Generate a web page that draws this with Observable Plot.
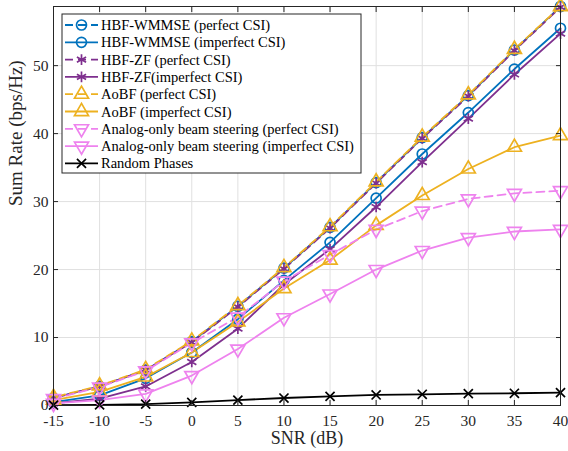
<!DOCTYPE html>
<html>
<head>
<meta charset="utf-8">
<script src="https://cdn.jsdelivr.net/npm/d3@7"></script>
<script src="https://cdn.jsdelivr.net/npm/@observablehq/plot@0.6"></script>
<style>
  html, body { margin: 0; padding: 0; background: white; }
  #chart svg, #chart svg text { font-family: "Liberation Serif", "Times New Roman", "DejaVu Serif", serif !important; }
</style>
</head>
<body>
<div id="chart"></div>
<script>
const snr = [-15, -10, -5, 0, 5, 10, 15, 20, 25, 30, 35, 40];
const wmmsePerfect   = [1.1, 2.8, 5.2, 9.4, 14.6, 20.2, 26.2, 32.8, 39.4, 45.6, 52.3, 58.7];
const wmmseImperfect = [0.5, 1.5, 4.0, 7.8, 12.7, 18.4, 24.0, 30.5, 37.0, 43.1, 49.5, 55.5];
const zfPerfect      = [1.1, 2.8, 5.2, 9.3, 14.5, 20.1, 26.1, 32.7, 39.3, 45.5, 52.2, 58.6];
const zfImperfect    = [0.3, 1.0, 2.8, 6.4, 11.3, 17.8, 23.0, 29.2, 35.8, 42.2, 48.7, 54.7];
const aobfPerfect    = [1.2, 2.9, 5.3, 9.5, 14.7, 20.3, 26.3, 32.9, 39.5, 45.7, 52.4, 58.7];
const aobfImperfect  = [0.8, 2.0, 4.2, 7.8, 12.3, 17.2, 21.4, 26.5, 30.9, 34.8, 38.0, 39.7];
const analogPerfect  = [1.0, 2.7, 5.1, 9.2, 13.0, 18.3, 22.2, 25.9, 28.6, 30.4, 31.2, 31.6];
const analogImperfect= [0.3, 0.8, 1.7, 4.4, 8.3, 12.9, 16.4, 20.0, 22.8, 24.7, 25.6, 25.9];
const randomPhases   = [0.05, 0.1, 0.2, 0.45, 0.8, 1.1, 1.35, 1.55, 1.65, 1.75, 1.8, 1.9];

const seriesNames = [
  "HBF-WMMSE (perfect CSI)",
  "HBF-WMMSE (imperfect CSI)",
  "HBF-ZF (perfect CSI)",
  "HBF-ZF(imperfect CSI)",
  "AoBF (perfect CSI)",
  "AoBF (imperfect CSI)",
  "Analog-only beam steering (perfect CSI)",
  "Analog-only beam steering (imperfect CSI)",
  "Random Phases"
];
const seriesValues = [wmmsePerfect, wmmseImperfect, zfPerfect, zfImperfect, aobfPerfect, aobfImperfect, analogPerfect, analogImperfect, randomPhases];
const xTicks = [-15, -10, -5, 0, 5, 10, 15, 20, 25, 30, 35, 40];
const yTicks = [0, 10, 20, 30, 40, 50];

const blue = "#0072BD", purple = "#7E2F8E", orange = "#EDB120", pink = "#EE82EE", black = "#000000";
const styles = [
  {color: blue,   dash: "8,5", offset: 0, symbol: "circle",   rotate: 0,   r: 5},
  {color: blue,   dash: null,  offset: 0, symbol: "circle",   rotate: 0,   r: 5},
  {color: purple, dash: "8,5", offset: 4, symbol: "asterisk", rotate: 0,   r: 5},
  {color: purple, dash: null,  offset: 0, symbol: "asterisk", rotate: 0,   r: 5},
  {color: orange, dash: "8,5", offset: 9, symbol: "triangle", rotate: 0,   r: 5.2},
  {color: orange, dash: null,  offset: 0, symbol: "triangle", rotate: 0,   r: 5.2},
  {color: pink,   dash: "8,5", offset: 0, symbol: "triangle", rotate: 180, r: 5.2},
  {color: pink,   dash: null,  offset: 0, symbol: "triangle", rotate: 180, r: 5.2},
  {color: black,  dash: null,  offset: 0, symbol: "times",    rotate: 0,   r: 4.2}
];

const font = "Liberation Serif, Times New Roman, DejaVu Serif, serif";
const axisColor = "#262626";

const marks = [
  Plot.gridX(xTicks, {stroke: "#e0e0e0", strokeOpacity: 1, strokeWidth: 1}),
  Plot.gridY(yTicks, {stroke: "#e0e0e0", strokeOpacity: 1, strokeWidth: 1}),
];

seriesValues.forEach((vals, i) => {
  const s = styles[i];
  const data = snr.map((x, j) => ({x, y: vals[j]}));
  marks.push(Plot.line(data, {
    x: "x", y: "y", stroke: s.color, strokeWidth: 1.8,
    strokeDasharray: s.dash || undefined, strokeDashoffset: s.offset
  }));
});
seriesValues.forEach((vals, i) => {
  const s = styles[i];
  const data = snr.map((x, j) => ({x, y: vals[j]}));
  marks.push(Plot.dot(data, {
    x: "x", y: "y", symbol: () => s.symbol, r: s.r, rotate: s.rotate,
    stroke: s.color, fill: "none", strokeWidth: 1.7
  }));
});

marks.push(
  Plot.frame({stroke: axisColor, strokeWidth: 1}),
  Plot.axisX(xTicks, {anchor: "bottom", tickSize: 0, tickPadding: 9, tickFormat: d => String(d), label: null, fontSize: 15.5, color: axisColor}),
  Plot.axisX(xTicks, {anchor: "bottom", tickSize: -5, fill: "none", label: null, stroke: axisColor}),
  Plot.axisX(xTicks, {anchor: "top", tickSize: -5, fill: "none", label: null, stroke: axisColor}),
  Plot.axisY(yTicks, {anchor: "left", tickSize: 0, tickPadding: 5, tickFormat: d => String(d), label: null, fontSize: 15.5, color: axisColor}),
  Plot.axisY(yTicks, {anchor: "left", tickSize: -5, fill: "none", label: null, stroke: axisColor}),
  Plot.axisY(yTicks, {anchor: "right", tickSize: -5, fill: "none", label: null, stroke: axisColor}),
  Plot.text(["SNR (dB)"], {frameAnchor: "bottom", dy: 38.5, fontSize: 18, fill: axisColor, text: d => d}),
  Plot.text(["Sum Rate (bps/Hz)"], {frameAnchor: "left", dx: -38, rotate: -90, fontSize: 19, fill: axisColor, text: d => d})
);

const chart = Plot.plot({
  width: 568,
  height: 451,
  marginLeft: 53,
  marginRight: 8,
  marginTop: 6,
  marginBottom: 46,
  style: {fontFamily: font, background: "white", color: axisColor, fontSize: "15px", overflow: "visible"},
  x: {domain: [-15, 40]},
  y: {domain: [0, 58.7]},
  marks
});

document.getElementById("chart").appendChild(chart);

// Legend box inside the axes (upper left)
const svg = d3.select(chart);
const lg = svg.append("g").attr("class", "legend")
  .attr("font-family", font).attr("font-size", 14.5).attr("text-anchor", "start");
const bx = 62, by = 14, bw = 299, bh = 159, rowH = 17.3, row0 = 25;
lg.append("rect").attr("x", bx).attr("y", by).attr("width", bw).attr("height", bh)
  .attr("fill", "white").attr("stroke", axisColor).attr("stroke-width", 1);
const symMap = {circle: d3.symbolCircle, asterisk: d3.symbolAsterisk, triangle: d3.symbolTriangle, times: d3.symbolTimes};
seriesNames.forEach((name, i) => {
  const s = styles[i];
  const cy = row0 + i * rowH;
  const g = lg.append("g");
  g.append("line").attr("x1", 65).attr("x2", 98).attr("y1", cy).attr("y2", cy)
    .attr("stroke", s.color).attr("stroke-width", 1.8)
    .attr("stroke-dasharray", s.dash ? "8,5" : null);
  g.append("path")
    .attr("d", d3.symbol(symMap[s.symbol], Math.PI * s.r * s.r)())
    .attr("transform", `translate(81.5,${cy}) rotate(${s.rotate})`)
    .attr("fill", "none").attr("stroke", s.color).attr("stroke-width", 1.7);
  g.append("text").attr("x", 101).attr("y", cy).attr("dy", "0.35em")
    .attr("text-anchor", "start").attr("fill", "#000").text(name);
});
</script>
</body>
</html>
